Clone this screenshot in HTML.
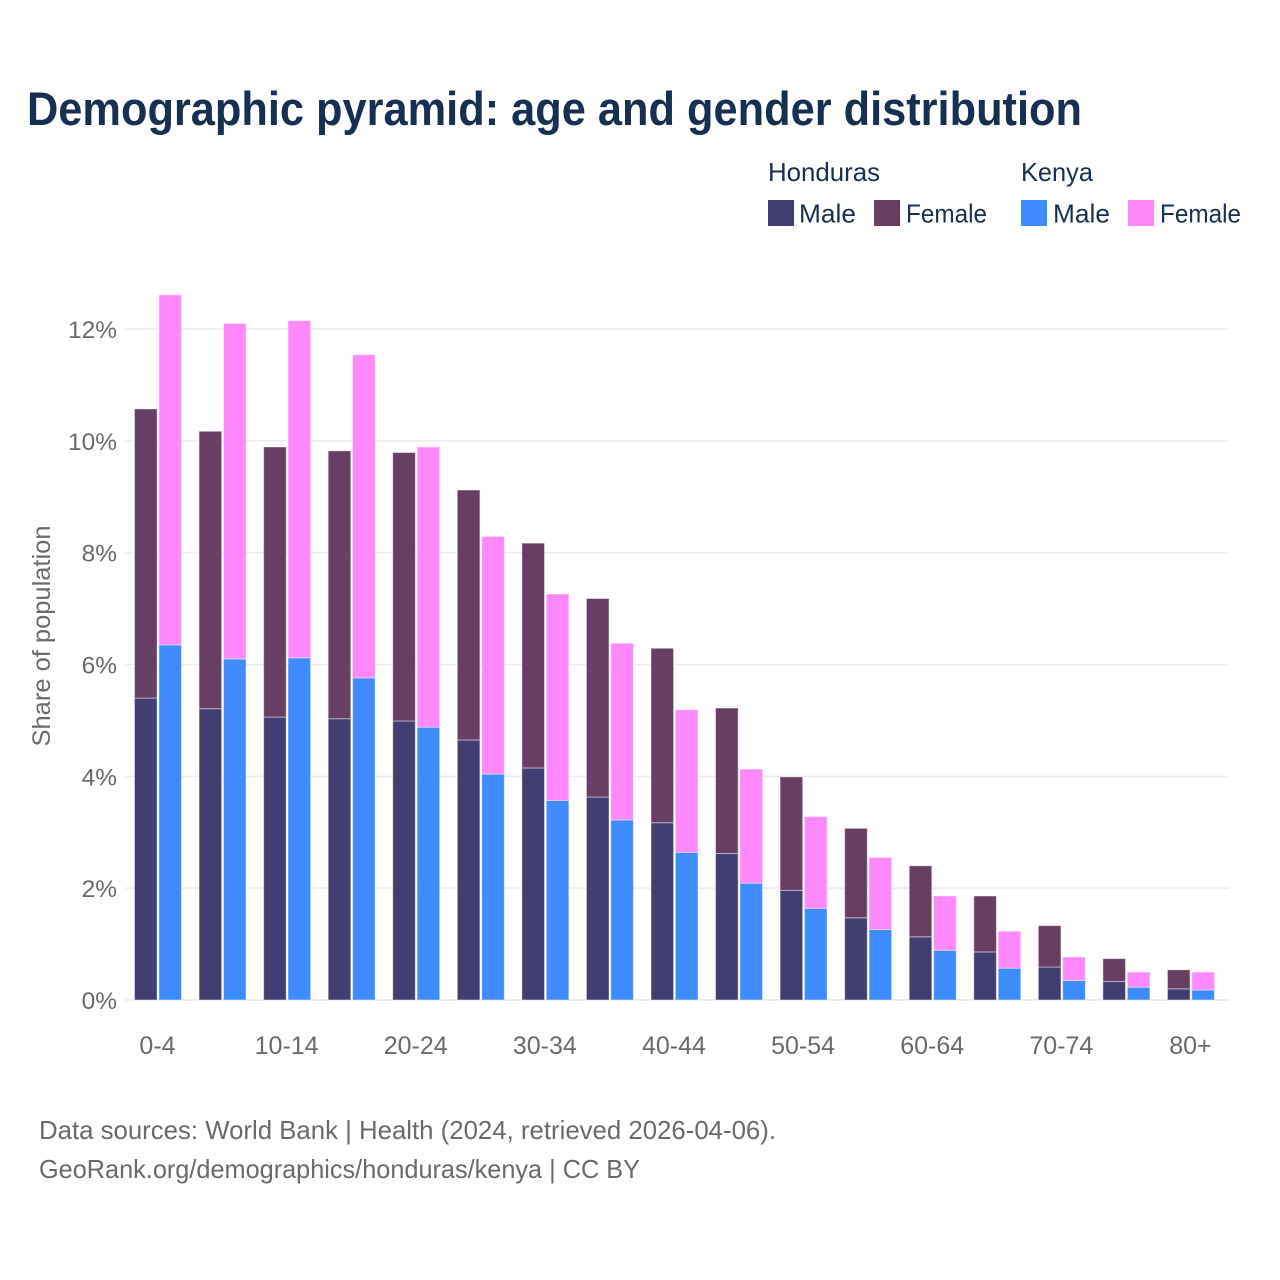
<!DOCTYPE html>
<html lang="en">
<head>
<meta charset="utf-8">
<title>Demographic pyramid: age and gender distribution</title>
<style>
html,body{margin:0;padding:0;background:#fff;}
svg{display:block;font-family:"Liberation Sans",Arial,sans-serif;}
</style>
</head>
<body>
<svg id="chart" xmlns="http://www.w3.org/2000/svg" width="1280" height="1280" viewBox="0 0 1280 1280">
<rect x="0" y="0" width="1280" height="1280" fill="#ffffff"/>
<text x="27" y="125" font-size="47" font-weight="700" fill="#172f50" textLength="1055" lengthAdjust="spacingAndGlyphs">Demographic pyramid: age and gender distribution</text>

<g font-size="26" fill="#172f50">
<text x="768" y="181" textLength="112" lengthAdjust="spacingAndGlyphs">Honduras</text>
<text x="1021" y="181" textLength="72" lengthAdjust="spacingAndGlyphs">Kenya</text>
<rect x="768" y="200" width="26" height="26" fill="#423e72"/>
<text x="799" y="222.5" textLength="57" lengthAdjust="spacingAndGlyphs">Male</text>
<rect x="874" y="200" width="26" height="26" fill="#673f63"/>
<text x="906" y="222.5" textLength="81" lengthAdjust="spacingAndGlyphs">Female</text>
<rect x="1021" y="200" width="26" height="26" fill="#3f8cff"/>
<text x="1053" y="222.5" textLength="57" lengthAdjust="spacingAndGlyphs">Male</text>
<rect x="1128" y="200" width="26" height="26" fill="#ff88fa"/>
<text x="1160" y="222.5" textLength="81" lengthAdjust="spacingAndGlyphs">Female</text>
</g>

<g id="grid"></g>
<g id="bars"></g>
<g id="yaxis"></g>
<g id="xaxis"></g>

<text transform="translate(50,636) rotate(-90)" text-anchor="middle" font-size="25" fill="#6a6a6e" textLength="221" lengthAdjust="spacingAndGlyphs">Share of population</text>

<text x="39" y="1139" font-size="26" fill="#6a6a6e" textLength="737" lengthAdjust="spacingAndGlyphs">Data sources: World Bank | Health (2024, retrieved 2026-04-06).</text>
<text x="39" y="1178" font-size="26" fill="#6a6a6e" textLength="601" lengthAdjust="spacingAndGlyphs">GeoRank.org/demographics/honduras/kenya | CC BY</text>
</svg>
<script>
var ageGroups = ["0-4","5-9","10-14","15-19","20-24","25-29","30-34","35-39","40-44","45-49","50-54","55-59","60-64","65-69","70-74","75-79","80+"];
var xTickLabels = ["0-4","","10-14","","20-24","","30-34","","40-44","","50-54","","60-64","","70-74","","80+"];
var yTicks = [0,2,4,6,8,10,12];
var hondurasMale = [5.40,5.21,5.06,5.03,4.99,4.65,4.15,3.63,3.17,2.62,1.96,1.47,1.13,0.86,0.59,0.33,0.20];
var hondurasFemale = [5.17,4.96,4.83,4.79,4.80,4.47,4.02,3.55,3.12,2.60,2.03,1.60,1.27,1.00,0.74,0.41,0.34];
var kenyaMale = [6.35,6.10,6.12,5.76,4.88,4.04,3.57,3.22,2.64,2.09,1.64,1.26,0.89,0.57,0.35,0.23,0.18];
var kenyaFemale = [6.26,6.00,6.03,5.78,5.01,4.25,3.69,3.16,2.55,2.04,1.64,1.29,0.97,0.66,0.42,0.27,0.32];

var NS = "http://www.w3.org/2000/svg";
function yScale(v){ return 1000 - v * 55.92; }
function xScale(i){ return 158 + i * 64.56; }
function make(tag, attrs, parent){
  var el = document.createElementNS(NS, tag);
  for (var k in attrs) el.setAttribute(k, attrs[k]);
  parent.appendChild(el);
  return el;
}
var gridG = document.getElementById("grid");
var barsG = document.getElementById("bars");
var yG = document.getElementById("yaxis");
var xG = document.getElementById("xaxis");

yTicks.forEach(function(t){
  var line = make("line", {x1:125, x2:1229, y1:yScale(t), y2:yScale(t), stroke:"#ebebf0", "stroke-width":t === 0 ? 2 : 1.5}, gridG);
  
  
  var lab = make("text", {x:117, y:yScale(t) + 9, "text-anchor":"end", "font-size":24.5, fill:"#6a6a6e"}, yG);
  
  
  lab.textContent = t + "%";
});

function drawBar(x, base, value, color){
  var top = yScale(base + value);
  var r = make("rect", {x:x, y:top, width:22.6, height:yScale(base) - top, fill:color, stroke:"#ffffff", "stroke-opacity":0.45, "stroke-width":1}, barsG);
  
  
}

ageGroups.forEach(function(g, i){
  var cx = xScale(i);
  drawBar(cx - 23.5, 0, hondurasMale[i], "#423e72");
  drawBar(cx - 23.5, hondurasMale[i], hondurasFemale[i], "#673f63");
  drawBar(cx + 0.9, 0, kenyaMale[i], "#3f8cff");
  drawBar(cx + 0.9, kenyaMale[i], kenyaFemale[i], "#ff88fa");
  if (xTickLabels[i]) {
    var lab = make("text", {x:cx - 0.5, y:1054, "text-anchor":"middle", "font-size":25, fill:"#6a6a6e"}, xG);
    
    
    lab.textContent = xTickLabels[i];
  }
});
</script>
</body>
</html>
